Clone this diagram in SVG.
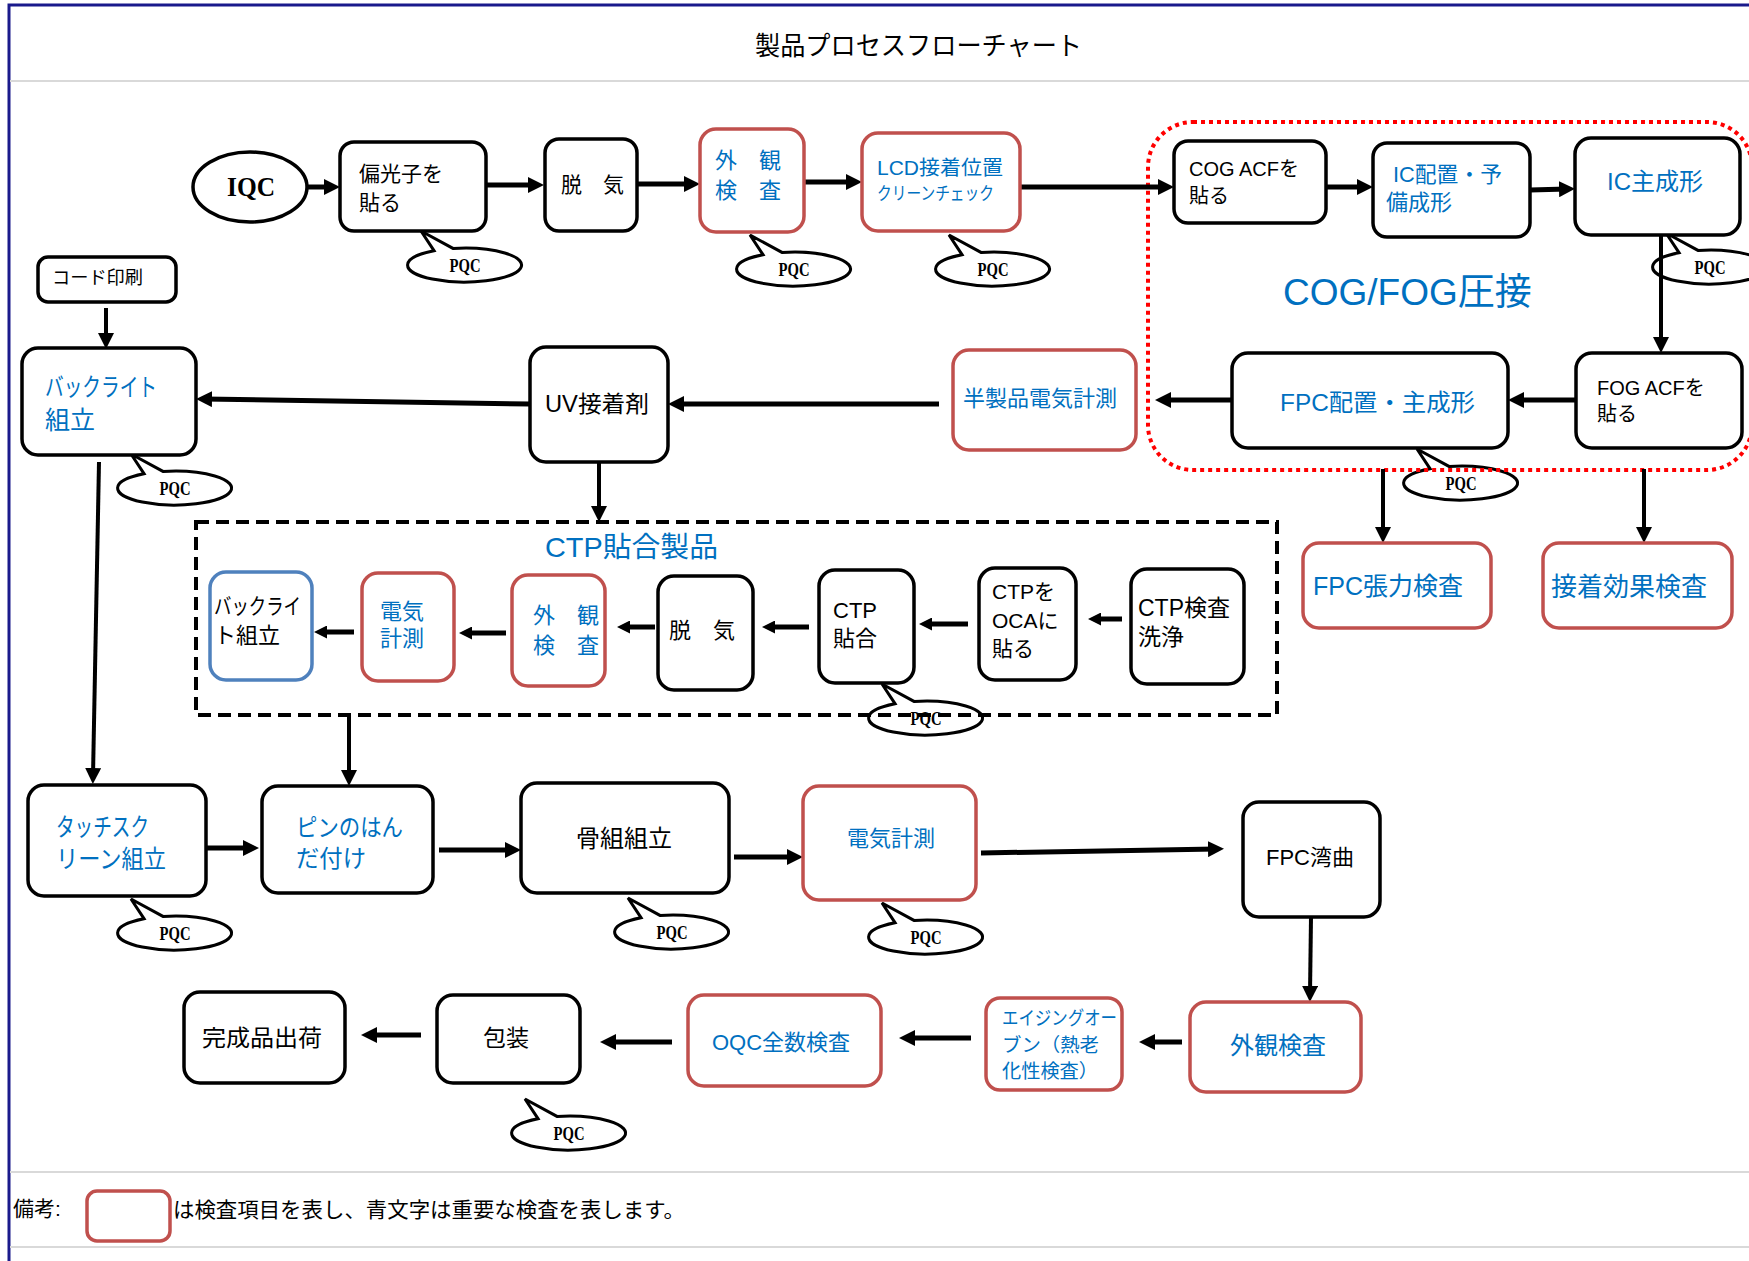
<svg xmlns="http://www.w3.org/2000/svg" width="1749" height="1261" viewBox="0 0 1749 1261">
<style>
.bx{fill:#fff;stroke:#000;stroke-width:3.5}
.rd{fill:#fff;stroke:#C0504D;stroke-width:3.5}
.bl{fill:#fff;stroke:#4F81BD;stroke-width:3.5}
.t{font-family:'Liberation Sans','Noto Sans CJK JP',sans-serif;fill:#000}
.b{fill:#0070C0}
.cn path{fill:none;stroke:#000;stroke-width:5}
.cn .v{stroke-width:4}
.pq{fill:#fff;stroke:#000;stroke-width:3}
.pt{font-family:'Liberation Serif',serif;font-weight:bold;font-size:18px;fill:#000}
</style>
<defs>
<marker id="ah" markerUnits="userSpaceOnUse" markerWidth="16" markerHeight="16" refX="8" refY="8" orient="auto"><path d="M0,0 L16,8 L0,16 z" fill="#000"/></marker>
<marker id="as" markerUnits="userSpaceOnUse" markerWidth="13" markerHeight="13" refX="6.5" refY="6.5" orient="auto"><path d="M0,0 L13,6.5 L0,13 z" fill="#000"/></marker>
<path id="cq" d="M-31,-14.3 L-44,-34 L-12,-16.6 A57,17 0 1 1 -31,-14.3 Z"/>
</defs>
<rect width="1749" height="1261" fill="#fff"/>
<g id="frame">
<path d="M9,1261 V5 H1749" fill="none" stroke="#1a1a8c" stroke-width="3"/>
<line x1="10" y1="81" x2="1749" y2="81" stroke="#d9d9d9" stroke-width="2"/>
<line x1="10" y1="1172" x2="1749" y2="1172" stroke="#d9d9d9" stroke-width="2"/>
<line x1="10" y1="1247" x2="1749" y2="1247" stroke="#d9d9d9" stroke-width="2"/>
<text class="t" x="755" y="55" font-size="26" textLength="327" lengthAdjust="spacingAndGlyphs">製品プロセスフローチャート</text>
</g>
<g id="callouts">
<g id="pqc1"><use href="#cq" x="465" y="265" class="pq"/><text class="pt" x="449.5" y="271.5" textLength="31" lengthAdjust="spacingAndGlyphs">PQC</text></g>
<g id="pqc2"><use href="#cq" x="794" y="269" class="pq"/><text class="pt" x="778.5" y="275.5" textLength="31" lengthAdjust="spacingAndGlyphs">PQC</text></g>
<g id="pqc3"><use href="#cq" x="993" y="269" class="pq"/><text class="pt" x="977.5" y="275.5" textLength="31" lengthAdjust="spacingAndGlyphs">PQC</text></g>
<g id="pqc4"><use href="#cq" x="1710" y="267" class="pq"/><text class="pt" x="1694.5" y="273.5" textLength="31" lengthAdjust="spacingAndGlyphs">PQC</text></g>
<g id="pqc5"><use href="#cq" x="1461" y="483" class="pq"/><text class="pt" x="1445.5" y="489.5" textLength="31" lengthAdjust="spacingAndGlyphs">PQC</text></g>
<g id="pqc6"><use href="#cq" x="175" y="488" class="pq"/><text class="pt" x="159.5" y="494.5" textLength="31" lengthAdjust="spacingAndGlyphs">PQC</text></g>
<g id="pqc7"><use href="#cq" x="926" y="718" class="pq"/><text class="pt" x="910.5" y="724.5" textLength="31" lengthAdjust="spacingAndGlyphs">PQC</text></g>
<g id="pqc8"><use href="#cq" x="175" y="933" class="pq"/><text class="pt" x="159.5" y="939.5" textLength="31" lengthAdjust="spacingAndGlyphs">PQC</text></g>
<g id="pqc9"><use href="#cq" x="672" y="932" class="pq"/><text class="pt" x="656.5" y="938.5" textLength="31" lengthAdjust="spacingAndGlyphs">PQC</text></g>
<g id="pqc10"><use href="#cq" x="926" y="937" class="pq"/><text class="pt" x="910.5" y="943.5" textLength="31" lengthAdjust="spacingAndGlyphs">PQC</text></g>
<g id="pqc11"><use href="#cq" x="569" y="1133" class="pq"/><text class="pt" x="553.5" y="1139.5" textLength="31" lengthAdjust="spacingAndGlyphs">PQC</text></g>
</g>
<g id="group-cog">
<rect x="1148" y="122" width="604" height="348" rx="45" fill="none" stroke="#FF0000" stroke-width="4" stroke-dasharray="4 4"/>
<text class="t b" x="1283" y="305" font-size="37">COG/FOG圧接</text>
</g>
<g id="group-ctp">
<rect x="196" y="522" width="1081" height="193" fill="none" stroke="#000" stroke-width="4" stroke-dasharray="13 7"/>
<text class="t b" x="545" y="557" font-size="28" textLength="173" lengthAdjust="spacingAndGlyphs">CTP貼合製品</text>
</g>
<g id="connectors" class="cn">
<path d="M307,187 H332" marker-end="url(#ah)"/>
<path d="M486,185 H536" marker-end="url(#ah)"/>
<path d="M637,184 H692" marker-end="url(#ah)"/>
<path d="M804,182 H854" marker-end="url(#ah)"/>
<path d="M1020,187 H1166" marker-end="url(#ah)"/>
<path d="M1326,187 H1365" marker-end="url(#ah)"/>
<path d="M1530,190 L1567,189" marker-end="url(#ah)"/>
<path class="v" d="M1661,235 V345" marker-end="url(#ah)"/>
<path d="M1576,400 H1516" marker-end="url(#ah)"/>
<path d="M1232,400 H1163" marker-end="url(#ah)"/>
<path d="M939,404 H676" marker-end="url(#ah)"/>
<path d="M530,404 L204,399" marker-end="url(#ah)"/>
<path class="v" d="M106,308 V341" marker-end="url(#ah)"/>
<path class="v" d="M599,462 V514" marker-end="url(#ah)"/>
<path class="v" d="M99,462 L93,776" marker-end="url(#ah)"/>
<path class="v" d="M1383,469 V535" marker-end="url(#ah)"/>
<path class="v" d="M1644,469 V535" marker-end="url(#ah)"/>
<path d="M1122,619 H1094.5" marker-end="url(#as)"/>
<path d="M968,624 H925.5" marker-end="url(#as)"/>
<path d="M809,627 H768.5" marker-end="url(#as)"/>
<path d="M655,627 H623.5" marker-end="url(#as)"/>
<path d="M506,633 H465.5" marker-end="url(#as)"/>
<path d="M354,632 H320.5" marker-end="url(#as)"/>
<path class="v" d="M349,716 V778" marker-end="url(#ah)"/>
<path d="M207,848 H251" marker-end="url(#ah)"/>
<path d="M439,850 H513" marker-end="url(#ah)"/>
<path d="M734,857 H795" marker-end="url(#ah)"/>
<path d="M981,853 L1216,849" marker-end="url(#ah)"/>
<path class="v" d="M1311,917 L1310,994" marker-end="url(#ah)"/>
<path d="M1182,1042 H1147" marker-end="url(#ah)"/>
<path d="M971,1038 H907" marker-end="url(#ah)"/>
<path d="M672,1042 H608" marker-end="url(#ah)"/>
<path d="M421,1035 H369" marker-end="url(#ah)"/>
</g>
<g id="n-iqc"><ellipse cx="250" cy="187" rx="57" ry="35" class="bx"/><text x="227" y="196" font-family="'Liberation Serif',serif" font-weight="bold" font-size="28" textLength="48" lengthAdjust="spacingAndGlyphs">IQC</text></g>
<g id="n-henkou"><rect x="340" y="142" width="146" height="89" rx="14" class="bx"/><text class="t" x="359" y="181" font-size="21">偏光子を</text><text class="t" x="359" y="210" font-size="21">貼る</text></g>
<g id="n-dakki1"><rect x="545" y="139" width="92" height="92" rx="14" class="bx"/><text class="t" x="561" y="192" font-size="21">脱　気</text></g>
<g id="n-gaikan1"><rect x="700" y="129" width="104" height="103" rx="16" class="rd"/><text class="t b" x="715" y="168" font-size="22">外　観</text><text class="t b" x="715" y="198" font-size="22">検　査</text></g>
<g id="n-lcd"><rect x="862" y="133" width="158" height="98" rx="16" class="rd"/><text class="t b" x="877" y="175" font-size="20" textLength="126" lengthAdjust="spacingAndGlyphs">LCD接着位置</text><text class="t b" x="877" y="200" font-size="18" textLength="117" lengthAdjust="spacingAndGlyphs">クリーンチェック</text></g>
<g id="n-cogacf"><rect x="1174" y="141" width="152" height="82" rx="14" class="bx"/><text class="t" x="1189" y="176" font-size="20">COG ACFを</text><text class="t" x="1189" y="203" font-size="20">貼る</text></g>
<g id="n-ichaichi"><rect x="1373" y="143" width="157" height="94" rx="14" class="bx"/><text class="t b" x="1393" y="182" font-size="22" textLength="109" lengthAdjust="spacingAndGlyphs">IC配置・予</text><text class="t b" x="1386" y="210" font-size="22">備成形</text></g>
<g id="n-icshu"><rect x="1575" y="138" width="165" height="97" rx="16" class="bx"/><text class="t b" x="1607" y="190" font-size="24">IC主成形</text></g>
<g id="n-code"><rect x="38" y="257" width="138" height="45" rx="10" class="bx"/><text class="t" x="52" y="284" font-size="18" textLength="91" lengthAdjust="spacingAndGlyphs">コード印刷</text></g>
<g id="n-backlight"><rect x="22" y="348" width="174" height="107" rx="16" class="bx"/><text class="t b" x="45" y="396" font-size="25" textLength="112" lengthAdjust="spacingAndGlyphs">バックライト</text><text class="t b" x="45" y="429" font-size="25">組立</text></g>
<g id="n-uv"><rect x="530" y="347" width="138" height="115" rx="16" class="bx"/><text class="t" x="545" y="412" font-size="23" textLength="104" lengthAdjust="spacingAndGlyphs">UV接着剤</text></g>
<g id="n-hanseihin"><rect x="953" y="350" width="183" height="100" rx="16" class="rd"/><text class="t b" x="963" y="406" font-size="22">半製品電気計測</text></g>
<g id="n-fpchaichi"><rect x="1232" y="353" width="276" height="95" rx="16" class="bx"/><text class="t b" x="1280" y="411" font-size="24" textLength="195" lengthAdjust="spacingAndGlyphs">FPC配置・主成形</text></g>
<g id="n-fogacf"><rect x="1576" y="353" width="166" height="95" rx="16" class="bx"/><text class="t" x="1597" y="395" font-size="20">FOG ACFを</text><text class="t" x="1597" y="421" font-size="20">貼る</text></g>
<g id="n-fpcchouryoku"><rect x="1303" y="543" width="188" height="85" rx="16" class="rd"/><text class="t b" x="1313" y="595" font-size="25">FPC張力検査</text></g>
<g id="n-secchaku"><rect x="1543" y="543" width="189" height="85" rx="16" class="rd"/><text class="t b" x="1551" y="596" font-size="26">接着効果検査</text></g>
<g id="n-ctp-backlight"><rect x="210" y="572" width="102" height="108" rx="16" class="bl"/><text class="t" x="214" y="614" font-size="22" textLength="87" lengthAdjust="spacingAndGlyphs">バックライ</text><text class="t" x="214" y="643" font-size="22">ト組立</text></g>
<g id="n-ctp-denki"><rect x="362" y="573" width="92" height="108" rx="16" class="rd"/><text class="t b" x="380" y="619" font-size="22">電気</text><text class="t b" x="380" y="646" font-size="22">計測</text></g>
<g id="n-ctp-gaikan"><rect x="512" y="575" width="93" height="111" rx="16" class="rd"/><text class="t b" x="533" y="623" font-size="22">外　観</text><text class="t b" x="533" y="653" font-size="22">検　査</text></g>
<g id="n-ctp-dakki"><rect x="658" y="576" width="95" height="114" rx="16" class="bx"/><text class="t" x="669" y="638" font-size="22">脱　気</text></g>
<g id="n-ctp-harigo"><rect x="819" y="570" width="95" height="113" rx="16" class="bx"/><text class="t" x="833" y="618" font-size="22">CTP</text><text class="t" x="833" y="646" font-size="22">貼合</text></g>
<g id="n-ctp-oca"><rect x="979" y="568" width="97" height="112" rx="16" class="bx"/><text class="t" x="992" y="599" font-size="21">CTPを</text><text class="t" x="992" y="628" font-size="21">OCAに</text><text class="t" x="992" y="656" font-size="21">貼る</text></g>
<g id="n-ctp-kensa"><rect x="1131" y="569" width="113" height="115" rx="16" class="bx"/><text class="t" x="1138" y="616" font-size="23">CTP検査</text><text class="t" x="1138" y="645" font-size="23">洗浄</text></g>
<g id="n-touch"><rect x="28" y="785" width="178" height="111" rx="16" class="bx"/><text class="t b" x="56" y="836" font-size="25" textLength="93" lengthAdjust="spacingAndGlyphs">タッチスク</text><text class="t b" x="56" y="868" font-size="25" textLength="110" lengthAdjust="spacingAndGlyphs">リーン組立</text></g>
<g id="n-pin"><rect x="262" y="786" width="171" height="107" rx="16" class="bx"/><text class="t b" x="296" y="836" font-size="24" textLength="107" lengthAdjust="spacingAndGlyphs">ピンのはん</text><text class="t b" x="296" y="867" font-size="24" textLength="70" lengthAdjust="spacingAndGlyphs">だ付け</text></g>
<g id="n-honegumi"><rect x="521" y="783" width="208" height="110" rx="16" class="bx"/><text class="t" x="576" y="847" font-size="24">骨組組立</text></g>
<g id="n-denki"><rect x="803" y="786" width="173" height="114" rx="16" class="rd"/><text class="t b" x="847" y="846" font-size="22">電気計測</text></g>
<g id="n-fpcwankyoku"><rect x="1243" y="802" width="137" height="115" rx="16" class="bx"/><text class="t" x="1266" y="865" font-size="22">FPC湾曲</text></g>
<g id="n-gaikan2"><rect x="1190" y="1002" width="171" height="90" rx="16" class="rd"/><text class="t b" x="1230" y="1054" font-size="24">外観検査</text></g>
<g id="n-aging"><rect x="986" y="998" width="136" height="92" rx="14" class="rd"/><text class="t b" x="1002" y="1025" font-size="19" textLength="115" lengthAdjust="spacingAndGlyphs">エイジングオー</text><text class="t b" x="1002" y="1052" font-size="19" textLength="97" lengthAdjust="spacingAndGlyphs">ブン（熱老</text><text class="t b" x="1002" y="1078" font-size="19" textLength="96" lengthAdjust="spacingAndGlyphs">化性検査）</text></g>
<g id="n-oqc"><rect x="688" y="995" width="193" height="91" rx="16" class="rd"/><text class="t b" x="712" y="1050" font-size="22">OQC全数検査</text></g>
<g id="n-housou"><rect x="437" y="995" width="143" height="88" rx="16" class="bx"/><text class="t" x="483" y="1046" font-size="23">包装</text></g>
<g id="n-kansei"><rect x="184" y="992" width="161" height="91" rx="16" class="bx"/><text class="t" x="202" y="1046" font-size="23" textLength="120" lengthAdjust="spacingAndGlyphs">完成品出荷</text></g>
<g id="legend">
<text class="t" x="13" y="1216" font-size="21">備考:</text>
<rect x="87" y="1191" width="83" height="50" rx="10" class="rd"/>
<text class="t" x="173" y="1217" font-size="21" textLength="512" lengthAdjust="spacingAndGlyphs">は検査項目を表し、青文字は重要な検査を表します。</text>
</g>
</svg>
